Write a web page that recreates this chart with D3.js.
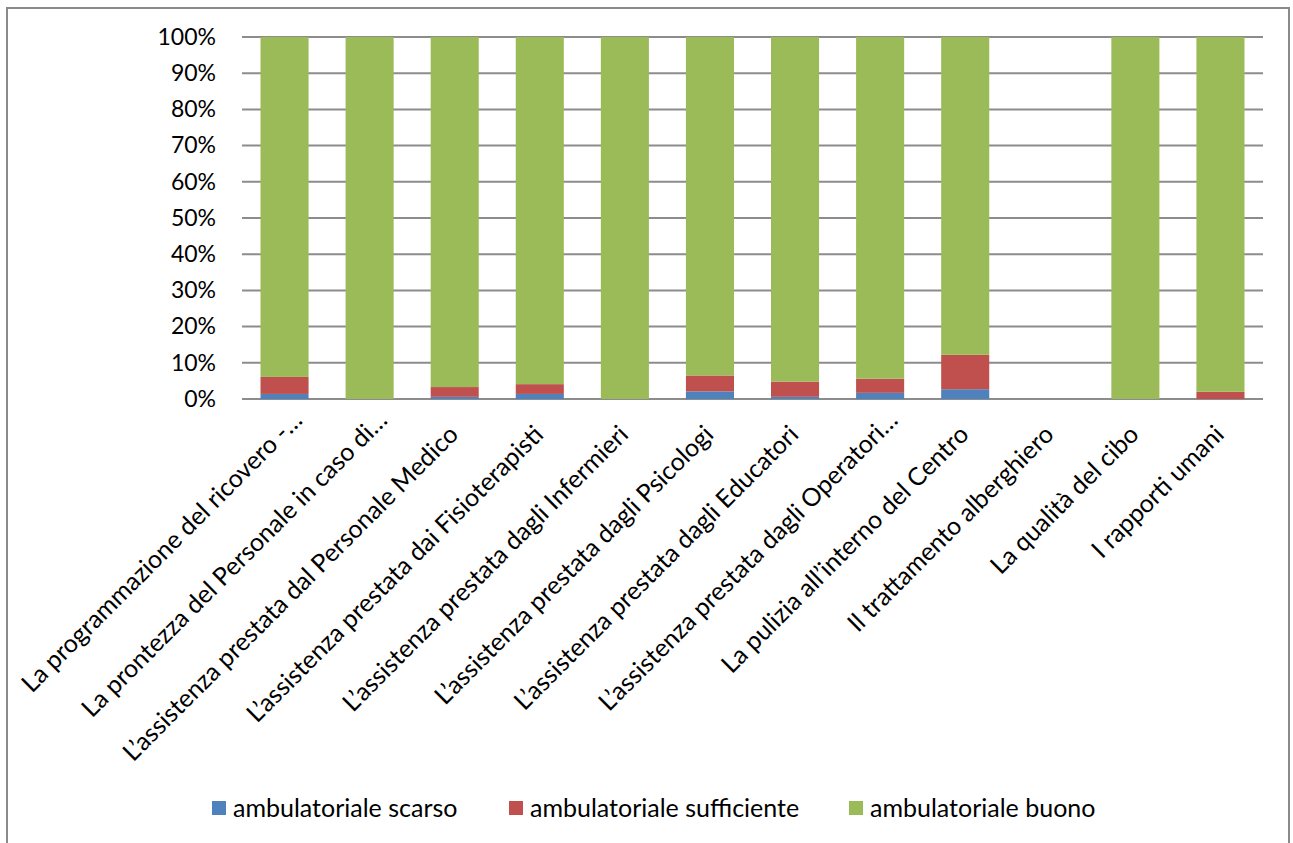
<!DOCTYPE html>
<html>
<head>
<meta charset="utf-8">
<script src="https://cdn.jsdelivr.net/npm/d3@7"></script>
<style>
  html, body { margin: 0; padding: 0; background: #fff; }
  svg { display: block; font-family: Lato, "Open Sans", sans-serif; }
</style>
</head>
<body>
<svg id="chart" width="1293" height="843"></svg>
<script>
const categories = [
  "La programmazione del ricovero -…",
  "La prontezza del Personale in caso di…",
  "L’assistenza prestata dal Personale Medico",
  "L’assistenza prestata dai Fisioterapisti",
  "L’assistenza prestata dagli Infermieri",
  "L’assistenza prestata dagli Psicologi",
  "L’assistenza prestata dagli Educatori",
  "L’assistenza prestata dagli Operatori…",
  "La pulizia all’interno del Centro",
  "Il trattamento alberghiero",
  "La qualità del cibo",
  "I rapporti umani"
];
const seriesNames = ["ambulatoriale scarso", "ambulatoriale sufficiente", "ambulatoriale buono"];
const scarso      = [1.4, 0, 0.6, 1.4, 0, 2.1, 0.6, 1.7, 2.7, 0, 0, 0];
const sufficiente = [4.7, 0, 2.7, 2.7, 0, 4.4, 4.2, 3.9, 9.5, 0, 0, 2.0];
const buono       = [93.9, 100, 96.7, 95.9, 100, 93.5, 95.2, 94.4, 87.8, 0, 100, 98.0];
const yTicks = [0, 10, 20, 30, 40, 50, 60, 70, 80, 90, 100];
const colors = ["#4F81BD", "#C0504D", "#9BBB59"];

const svg = d3.select("#chart");

// outer chart border
svg.append("rect")
  .attr("x", 7).attr("y", 8).attr("width", 1282).attr("height", 850)
  .attr("fill", "none").attr("stroke", "#8a8a8a").attr("stroke-width", 2);

const plot = { left: 242, right: 1263, top: 37, bottom: 399 };

const x = d3.scaleBand().domain(categories).range([plot.left, plot.right]).paddingInner(0.435).paddingOuter(0.2175);
const y = d3.scaleLinear().domain([0, 100]).range([plot.bottom, plot.top]);

// gridlines
svg.append("g").selectAll("line").data(yTicks).join("line")
  .attr("x1", plot.left).attr("x2", plot.right)
  .attr("y1", d => y(d)).attr("y2", d => y(d))
  .attr("stroke", "#8c8c8c").attr("stroke-width", 2);

// y axis labels
const yAxis = d3.axisLeft(y).tickValues(yTicks).tickFormat(d => d + "%").tickSize(0).tickPadding(26);
const gy = svg.append("g").attr("transform", `translate(${plot.left},0)`).call(yAxis);
gy.select(".domain").remove();
gy.selectAll("text").attr("font-size", 23).attr("fill", "#000").attr("font-family", "Lato, sans-serif");

// stacked data
const rows = categories.map((c, i) => ({ cat: c, s0: scarso[i], s1: sufficiente[i], s2: buono[i] }));
const stack = d3.stack().keys(["s0", "s1", "s2"]);
const stacked = stack(rows);

svg.append("g").selectAll("g").data(stacked).join("g")
  .attr("fill", (d, i) => colors[i])
  .selectAll("rect").data(d => d).join("rect")
  .attr("x", d => x(d.data.cat))
  .attr("width", x.bandwidth())
  .attr("y", d => y(d[1]))
  .attr("height", d => Math.max(0, y(d[0]) - y(d[1])));

// x labels
const xl = svg.append("g");
categories.forEach(c => {
  const cx = x(c) + x.bandwidth() / 2 + 5;
  const cy = 436;
  const extra = c.endsWith("…") ? 20 : 0;
  xl.append("text")
    .attr("transform", `translate(${cx},${cy}) rotate(-45)`)
    .attr("x", extra)
    .attr("text-anchor", "end")
    .attr("font-size", 25)
    .attr("fill", "#000")
    .text(c);
});

// legend
const legendX = [212, 509, 849];
const lg = svg.append("g");
seriesNames.forEach((n, i) => {
  lg.append("rect").attr("x", legendX[i]).attr("y", 801).attr("width", 14).attr("height", 14).attr("fill", colors[i]);
  lg.append("text").attr("x", legendX[i] + 21).attr("y", 817).attr("font-size", 25).attr("fill", "#000").text(n);
});
</script>
</body>
</html>
